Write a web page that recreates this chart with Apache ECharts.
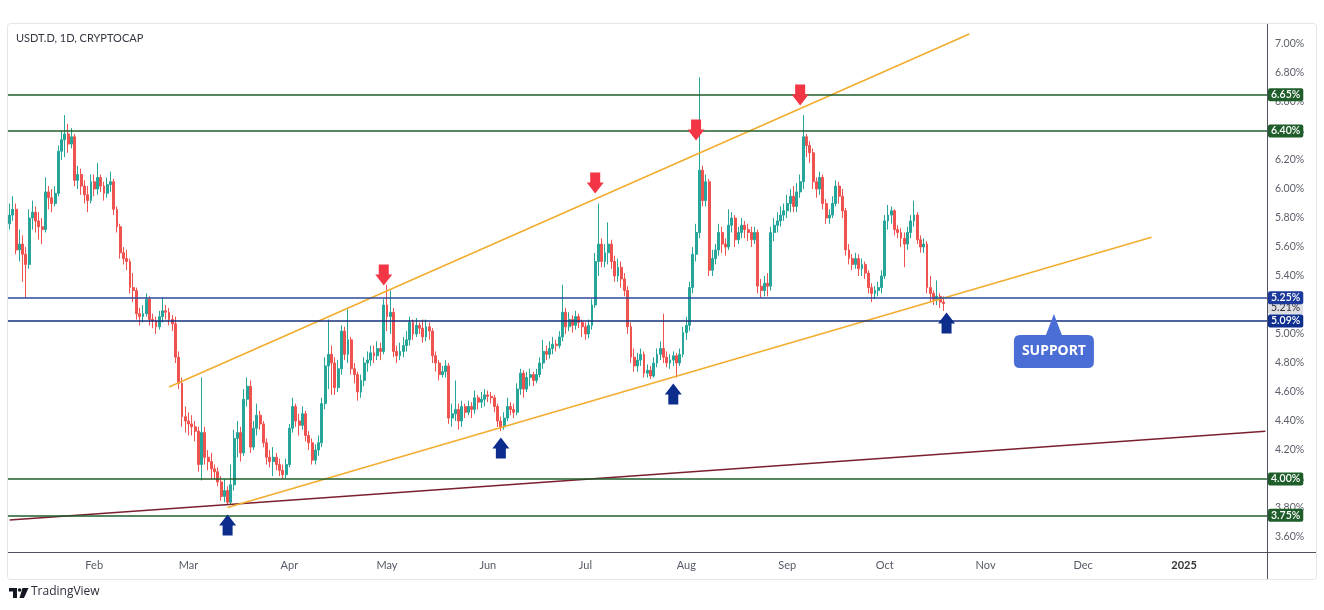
<!DOCTYPE html>
<html><head><meta charset="utf-8">
<script src="https://cdn.jsdelivr.net/npm/echarts@6/dist/echarts.min.js"></script>
<style>html,body{margin:0;padding:0;background:#fff}#c{width:1324px;height:610px}</style>
</head><body><div id="c"></div>
<script>
// ---------- DATA ----------
const firstDay = '2024-01-06';
const lastDay = '2025-01-26';
// daily candles [open, close, low, high]
const jan = [[5.76,5.82,5.72,5.90],[5.82,5.86,5.78,5.95],[5.86,5.58,5.55,5.90],[5.58,5.62,5.50,5.72],[5.62,5.55,5.36,5.68],[5.55,5.48,5.25,5.60],[5.48,5.80,5.45,5.86],[5.80,5.84,5.72,5.92],[5.84,5.78,5.70,5.88],[5.78,5.74,5.65,5.84],[5.74,5.72,5.62,5.80],[5.72,5.98,5.70,6.08],[5.98,5.94,5.86,6.02],[5.94,5.90,5.84,6.00],[5.90,5.97,5.88,6.02],[5.97,6.26,5.95,6.30],[6.26,6.34,6.20,6.40],[6.34,6.38,6.22,6.51],[6.38,6.31,6.25,6.45],[6.31,6.36,6.28,6.42],[6.36,6.06,6.02,6.38],[6.06,6.10,6.00,6.16],[6.10,6.02,5.96,6.14],[6.02,5.96,5.90,6.06],[5.96,5.92,5.84,6.02],[5.92,6.05,5.90,6.10]];
const feb = [[6.05,6.00,5.95,6.10],[6.00,6.08,5.96,6.18],[6.08,6.02,5.98,6.10],[6.02,5.97,5.92,6.05],[5.97,6.03,5.94,6.08],[6.03,6.05,5.98,6.12],[6.05,5.86,5.82,6.07],[5.86,5.74,5.70,5.88],[5.74,5.56,5.52,5.76],[5.56,5.52,5.48,5.60],[5.52,5.50,5.44,5.58],[5.50,5.32,5.28,5.52],[5.32,5.30,5.22,5.42],[5.30,5.14,5.10,5.32],[5.14,5.12,5.06,5.18],[5.12,5.14,5.08,5.20],[5.14,5.24,5.12,5.28],[5.24,5.10,5.06,5.26],[5.10,5.09,5.04,5.14],[5.09,5.05,5.00,5.12],[5.05,5.12,5.03,5.16],[5.12,5.16,5.08,5.25],[5.16,5.15,5.10,5.20],[5.15,5.10,5.06,5.18],[5.10,5.07,5.02,5.13],[5.07,4.84,4.80,5.12],[4.84,4.66,4.62,4.88],[4.66,4.43,4.36,4.70],[4.43,4.40,4.32,4.50]];
const mar = [[4.40,4.38,4.30,4.46],[4.38,4.36,4.30,4.44],[4.36,4.33,4.26,4.40],[4.33,4.10,4.05,4.36],[4.10,4.32,3.99,4.70],[4.32,4.15,4.10,4.36],[4.15,4.12,4.06,4.20],[4.12,4.07,4.00,4.18],[4.07,4.05,4.00,4.10],[4.05,3.98,3.95,4.08],[3.98,3.88,3.85,4.02],[3.88,3.92,3.84,4.00],[3.92,3.84,3.82,3.95],[3.84,3.96,3.82,4.10],[3.96,4.28,3.92,4.34],[4.28,4.32,4.15,4.40],[4.32,4.18,4.12,4.36],[4.18,4.55,4.16,4.62],[4.55,4.64,4.50,4.70],[4.64,4.22,4.18,4.68],[4.22,4.35,4.20,4.40],[4.35,4.44,4.30,4.52],[4.44,4.38,4.34,4.47],[4.38,4.25,4.22,4.40],[4.25,4.15,4.10,4.28],[4.15,4.12,4.08,4.20],[4.12,4.15,4.02,4.22],[4.15,4.10,4.06,4.18],[4.10,4.06,4.02,4.14],[4.06,4.03,4.00,4.10],[4.03,4.10,4.00,4.14]];
const apr = [[4.10,4.35,4.08,4.38],[4.35,4.50,4.32,4.56],[4.50,4.40,4.36,4.52],[4.40,4.37,4.30,4.45],[4.37,4.45,4.34,4.50],[4.45,4.30,4.26,4.47],[4.30,4.25,4.20,4.33],[4.25,4.13,4.10,4.28],[4.13,4.20,4.10,4.24],[4.20,4.25,4.16,4.30],[4.25,4.52,4.22,4.56],[4.52,4.78,4.48,4.84],[4.78,4.86,4.62,5.10],[4.86,4.80,4.58,4.92],[4.80,4.63,4.58,4.84],[4.63,4.76,4.60,4.82],[4.76,5.02,4.72,5.06],[5.02,4.86,4.82,5.05],[4.86,4.96,4.80,5.17],[4.96,4.76,4.72,4.98],[4.76,4.72,4.66,4.80],[4.72,4.60,4.54,4.74],[4.60,4.68,4.56,4.72],[4.68,4.80,4.64,4.84],[4.80,4.82,4.74,4.88],[4.82,4.87,4.78,4.92],[4.87,4.85,4.80,4.92],[4.85,4.90,4.82,4.95],[4.90,4.88,4.82,4.94],[4.88,5.20,4.86,5.24]];
const may = [[5.20,5.12,5.02,5.34],[5.12,5.15,5.00,5.30],[5.15,4.88,4.84,5.18],[4.88,4.85,4.80,4.92],[4.85,4.88,4.82,4.94],[4.88,4.92,4.84,4.98],[4.92,4.96,4.88,5.02],[4.96,5.08,4.92,5.12],[5.08,5.00,4.96,5.10],[5.00,5.06,4.98,5.11],[5.06,5.04,5.00,5.08],[5.04,4.98,4.94,5.10],[4.98,5.05,4.95,5.10],[5.05,5.02,4.96,5.08],[5.02,4.85,4.80,5.04],[4.85,4.80,4.74,4.88],[4.80,4.72,4.68,4.82],[4.72,4.74,4.70,4.78],[4.74,4.78,4.70,4.82],[4.78,4.42,4.38,4.80],[4.42,4.45,4.36,4.52],[4.45,4.48,4.40,4.68],[4.48,4.40,4.34,4.52],[4.40,4.50,4.36,4.54],[4.50,4.46,4.42,4.52],[4.46,4.50,4.44,4.54],[4.50,4.48,4.42,4.53],[4.48,4.56,4.45,4.61],[4.56,4.53,4.48,4.58],[4.53,4.55,4.49,4.60],[4.55,4.58,4.50,4.62]];
const jun = [[4.58,4.57,4.53,4.61],[4.57,4.56,4.52,4.60],[4.56,4.50,4.46,4.58],[4.50,4.40,4.36,4.52],[4.40,4.36,4.33,4.43],[4.36,4.42,4.34,4.46],[4.42,4.50,4.40,4.56],[4.50,4.48,4.44,4.53],[4.48,4.46,4.42,4.52],[4.46,4.62,4.44,4.66],[4.62,4.73,4.58,4.76],[4.73,4.62,4.56,4.75],[4.62,4.70,4.60,4.74],[4.70,4.72,4.64,4.76],[4.72,4.68,4.64,4.74],[4.68,4.72,4.66,4.76],[4.72,4.80,4.70,4.84],[4.80,4.88,4.76,4.96],[4.88,4.86,4.82,4.92],[4.86,4.90,4.83,4.95],[4.90,4.93,4.86,4.98],[4.93,4.92,4.88,4.96],[4.92,4.98,4.90,5.02],[4.98,5.15,4.95,5.34],[5.15,5.05,5.00,5.18],[5.05,5.10,5.02,5.15],[5.10,5.06,5.01,5.13],[5.06,5.12,5.03,5.16],[5.12,5.08,5.04,5.14],[5.08,5.05,4.98,5.10]];
const jul = [[5.05,5.00,4.96,5.08],[5.00,5.06,4.97,5.10],[5.06,5.20,5.03,5.24],[5.20,5.50,5.18,5.56],[5.50,5.62,5.40,5.90],[5.62,5.50,5.46,5.66],[5.50,5.56,5.46,5.62],[5.56,5.62,5.48,5.77],[5.62,5.50,5.45,5.65],[5.50,5.40,5.36,5.54],[5.40,5.46,5.36,5.52],[5.46,5.38,5.32,5.50],[5.38,5.30,5.26,5.42],[5.30,5.05,5.00,5.33],[5.05,4.84,4.80,5.08],[4.84,4.78,4.74,4.90],[4.78,4.82,4.74,4.87],[4.82,4.86,4.78,4.90],[4.86,4.73,4.70,4.88],[4.73,4.75,4.70,4.79],[4.75,4.71,4.69,4.78],[4.71,4.80,4.70,4.84],[4.80,4.86,4.77,4.90],[4.86,4.90,4.82,4.95],[4.90,4.84,4.80,5.14],[4.84,4.80,4.77,4.88],[4.80,4.82,4.76,4.86],[4.82,4.85,4.78,4.88],[4.85,4.80,4.70,4.87],[4.80,4.86,4.78,4.90],[4.86,5.01,4.84,5.05]];
const aug = [[5.01,5.06,4.96,5.12],[5.06,5.32,5.02,5.36],[5.32,5.55,5.28,5.60],[5.55,5.70,5.50,5.76],[5.70,6.13,5.66,6.77],[6.13,5.92,5.88,6.16],[5.92,6.05,5.88,6.10],[6.05,5.44,5.40,6.07],[5.44,5.52,5.40,5.58],[5.52,5.58,5.48,5.62],[5.58,5.70,5.54,5.76],[5.70,5.62,5.56,5.74],[5.62,5.60,5.54,5.66],[5.60,5.75,5.58,5.86],[5.75,5.80,5.70,5.84],[5.80,5.65,5.60,5.82],[5.65,5.70,5.62,5.74],[5.70,5.75,5.66,5.80],[5.75,5.72,5.66,5.78],[5.72,5.70,5.64,5.76],[5.70,5.65,5.60,5.74],[5.65,5.70,5.62,5.74],[5.70,5.33,5.28,5.72],[5.33,5.30,5.25,5.38],[5.30,5.35,5.26,5.40],[5.35,5.33,5.26,5.42],[5.33,5.70,5.30,5.74],[5.70,5.75,5.64,5.80],[5.75,5.78,5.70,5.84],[5.78,5.82,5.74,5.88],[5.82,5.85,5.78,5.90]];
const sep = [[5.85,5.90,5.80,5.96],[5.90,5.95,5.84,6.00],[5.95,5.88,5.84,6.02],[5.88,5.98,5.84,6.04],[5.98,6.05,5.94,6.10],[6.05,6.36,6.00,6.51],[6.36,6.30,6.22,6.38],[6.30,6.25,6.18,6.33],[6.25,6.05,6.00,6.28],[6.05,6.00,5.94,6.08],[6.00,6.08,5.96,6.12],[6.08,5.90,5.86,6.10],[5.90,5.80,5.76,5.93],[5.80,5.82,5.76,5.86],[5.82,5.90,5.80,5.95],[5.90,6.02,5.88,6.06],[6.02,5.95,5.90,6.05],[5.95,5.85,5.80,6.00],[5.85,5.58,5.54,5.87],[5.58,5.52,5.48,5.62],[5.52,5.48,5.44,5.55],[5.48,5.52,5.45,5.56],[5.52,5.45,5.40,5.55],[5.45,5.48,5.40,5.52],[5.48,5.42,5.38,5.50],[5.42,5.32,5.28,5.44],[5.32,5.28,5.22,5.35],[5.28,5.30,5.24,5.33],[5.30,5.32,5.26,5.36],[5.32,5.40,5.28,5.44]];
const oct = [[5.40,5.78,5.38,5.82],[5.78,5.82,5.72,5.89],[5.82,5.85,5.76,5.88],[5.85,5.72,5.68,5.86],[5.72,5.70,5.66,5.75],[5.70,5.66,5.60,5.73],[5.66,5.62,5.46,5.70],[5.62,5.70,5.58,5.74],[5.70,5.78,5.66,5.82],[5.78,5.82,5.74,5.92],[5.82,5.65,5.62,5.84],[5.65,5.60,5.56,5.68],[5.60,5.62,5.56,5.66],[5.62,5.32,5.28,5.64],[5.32,5.28,5.22,5.40],[5.28,5.24,5.20,5.30],[5.24,5.26,5.20,5.37],[5.26,5.22,5.18,5.28],[5.22,5.21,5.16,5.26]];

// price-scale labels that stay visible (5.20% sits under the last-price tag)
const yTicks = [3.6,3.8,4.0,4.2,4.4,4.6,4.8,5.0,5.4,5.6,5.8,6.0,6.2,6.4,6.6,6.8,7.0];
const greenLevels = [6.65, 6.40, 4.00, 3.75];
const blueLevels = [5.25, 5.09];
const lastPrice = 5.21;
const upperChannel = [['2024-02-24', 4.634], ['2024-10-27', 7.069]];
const lowerChannel = [['2024-03-13', 3.803], ['2024-12-22', 5.668]];
const longSupport = [['2024-01-06', 3.718], ['2025-01-26', 4.330]];
const rejections = [['2024-04-30', 5.407], ['2024-07-04', 6.041], ['2024-08-04', 6.407], ['2024-09-05', 6.648]];
const bounces = [['2024-03-13', 3.683], ['2024-06-05', 4.214], ['2024-07-28', 4.586], ['2024-10-20', 5.076]];
const supportNote = [['2024-11-22', 4.952]];
const monthNames = ['Jan','Feb','Mar','Apr','May','Jun','Jul','Aug','Sep','Oct','Nov','Dec'];

// ---------- BUILD ----------
const dates = [];
for (let t = Date.parse(firstDay + 'T00:00:00Z'); t <= Date.parse(lastDay + 'T00:00:00Z'); t += 86400000) {
  dates.push(new Date(t).toISOString().slice(0, 10));
}
const candles = [].concat(jan, feb, mar, apr, may, jun, jul, aug, sep, oct);

const GREEN = '#1f5e2b', BLUE1 = '#2b4a9a', BLUE2 = '#142f7e';
const lastLabelNudge = 0.025; // last-price tag pushed below the 5.25 tag, as the platform does
const lineData = [];
lineData.push({ yAxis: lastPrice - lastLabelNudge, lineStyle: { color: 'rgba(0,0,0,0)', width: 1 }, label: { formatter: lastPrice.toFixed(2) + '%', backgroundColor: '#dcdee4', color: '#333', fontWeight: 'normal' } });
greenLevels.forEach(v => lineData.push({ yAxis: v, lineStyle: { color: GREEN, width: 1.5 }, label: { formatter: v.toFixed(2) + '%', backgroundColor: GREEN } }));
lineData.push({ yAxis: blueLevels[0], lineStyle: { color: BLUE1, width: 1.5 }, label: { formatter: blueLevels[0].toFixed(2) + '%', backgroundColor: '#1b3a9c' } });
lineData.push({ yAxis: blueLevels[1], lineStyle: { color: BLUE2, width: 1.5 }, label: { formatter: blueLevels[1].toFixed(2) + '%', backgroundColor: '#0f2f8f' } });

const chart = echarts.init(document.getElementById('c'), null, { renderer: 'canvas' });
chart.setOption({
  animation: false,
  backgroundColor: '#ffffff',
  textStyle: { fontFamily: 'Lato, "Open Sans", sans-serif' },
  grid: { left: 8, right: 57, top: 24, bottom: 58 },
  xAxis: {
    type: 'category', data: dates, boundaryGap: true,
    axisLine: { show: false }, axisTick: { show: false }, splitLine: { show: false },
    axisLabel: {
      interval: (i, v) => v.slice(8) === '01',
      hideOverlap: false,
      margin: 8, fontSize: 11, color: '#555a66',
      formatter: v => {
        const m = +v.slice(5, 7);
        return m === 1 ? '{y|' + v.slice(0, 4) + '}' : monthNames[m - 1];
      },
      rich: { y: { fontWeight: 'bold', fontSize: 11, color: '#333' } }
    }
  },
  yAxis: {
    type: 'value', position: 'right', min: 3.4966, max: 7.138,
    axisLine: { show: false }, axisTick: { show: false }, splitLine: { show: false },
    axisLabel: { customValues: yTicks, formatter: v => v.toFixed(2) + '%', color: '#5d606b', fontSize: 10.5, margin: 8 }
  },
  series: [
    {
      type: 'candlestick', data: candles, barWidth: 2.4, z: 2,
      itemStyle: { color: '#26a69a', color0: '#ef5350', borderColor: '#26a69a', borderColor0: '#ef5350', borderWidth: 1 },
      markLine: {
        symbol: 'none', silent: true, animation: false, precision: 2,
        label: { show: true, position: 'end', distance: 1, color: '#fff', fontSize: 10.5, lineHeight: 11, fontWeight: 600, padding: [1, 3, 1, 3], borderRadius: 2 },
        lineStyle: { type: 'solid' },
        data: lineData
      }
    },
    { type: 'line', data: longSupport, symbol: 'none', silent: true, z: 3, lineStyle: { color: '#7a1f2e', width: 1.5 } },
    { type: 'line', data: upperChannel, symbol: 'none', silent: true, z: 3, lineStyle: { color: '#f2ad2e', width: 1.6 } },
    { type: 'line', data: lowerChannel, symbol: 'none', silent: true, z: 3, lineStyle: { color: '#f2ad2e', width: 1.6 } },
    { type: 'scatter', data: rejections, silent: true, z: 5, symbol: 'path://M3.5,0L13.5,0L13.5,10L17,10L8.5,21L0,10L3.5,10Z', symbolSize: [17, 21], itemStyle: { color: '#f23645', opacity: 1 } },
    { type: 'scatter', data: bounces, silent: true, z: 5, symbol: 'path://M8.5,0L17,11L13.5,11L13.5,21L3.5,21L3.5,11L0,11Z', symbolSize: [17, 21], itemStyle: { color: '#0d2d8c', opacity: 1 } },
    {
      type: 'scatter', data: supportNote, silent: true, z: 5,
      symbol: 'path://M6,21H32L40,0L48,21H74Q80,21 80,27V48Q80,54 74,54H6Q0,54 0,48V27Q0,21 6,21Z',
      symbolSize: [80, 54], itemStyle: { color: '#4b6dd6', opacity: 1 },
      label: { show: true, formatter: 'SUPPORT', position: 'inside', offset: [0, 10], color: '#fff', fontSize: 14, fontWeight: 'bold', fontFamily: '"Noto Sans", sans-serif' }
    }
  ],
  graphic: [
    { type: 'rect', shape: { x: 7.5, y: 23.5, width: 1309, height: 556, r: 3 }, style: { fill: 'none', stroke: '#e3e5eb', lineWidth: 1 }, silent: true, z: -1 },
    { type: 'line', shape: { x1: 1267.5, y1: 24, x2: 1267.5, y2: 579 }, style: { stroke: '#50535e', lineWidth: 1 }, silent: true },
    { type: 'line', shape: { x1: 8, y1: 552.5, x2: 1316, y2: 552.5 }, style: { stroke: '#50535e', lineWidth: 1 }, silent: true },
    { type: 'text', left: 16, top: 33, style: { text: 'USDT.D, 1D, CRYPTOCAP', fill: '#333842', font: '11px Lato, "Open Sans", sans-serif' }, silent: true },
    { type: 'rect', shape: { x: 9, y: 588, width: 8, height: 3.5 }, style: { fill: '#131722' }, silent: true },
    { type: 'rect', shape: { x: 13, y: 588, width: 4, height: 10 }, style: { fill: '#131722' }, silent: true },
    { type: 'circle', shape: { cx: 19.6, cy: 590, r: 1.8 }, style: { fill: '#131722' }, silent: true },
    { type: 'polygon', shape: { points: [[22.5, 588], [28.5, 588], [24, 598], [19.5, 598]] }, style: { fill: '#131722' }, silent: true },
    { type: 'text', left: 31, top: 586, style: { text: 'TradingView', fill: '#2a2e39', font: '12px "Open Sans", sans-serif' }, silent: true }
  ]
});
</script>
</body></html>
